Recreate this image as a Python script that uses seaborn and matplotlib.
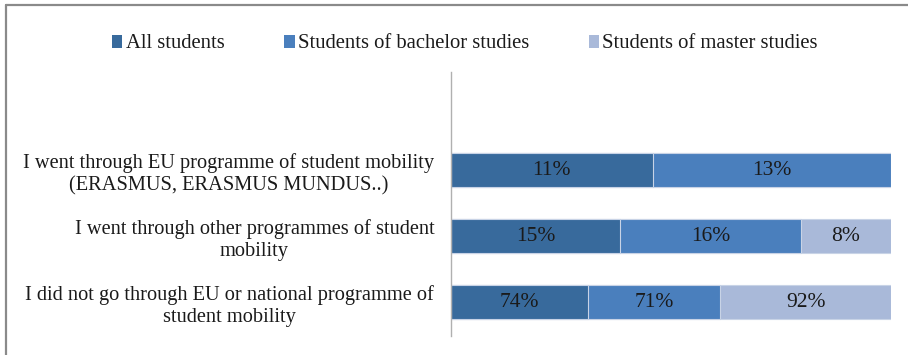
import matplotlib
matplotlib.use("Agg")
import matplotlib.pyplot as plt
from matplotlib.patches import Patch
from matplotlib.lines import Line2D
import numpy as np
import pandas as pd
import seaborn as sns

categories = [
    "I went through EU programme of student mobility\n(ERASMUS, ERASMUS MUNDUS..)",
    "I went through other programmes of student\nmobility",
    "I did not go through EU or national programme of\nstudent mobility",
]
series = ["All students", "Students of bachelor studies", "Students of master studies"]
all_students = [11, 15, 74]
bachelor = [13, 16, 71]
master = [0, 8, 92]
colors = ["#386a9c", "#4a7fbd", "#a9b9d9"]

sns.set_theme(style="white")
plt.rcParams["font.family"] = ["Liberation Serif", "DejaVu Serif"]

vals = np.array([all_students, bachelor, master], dtype=float)
shares = vals / vals.sum(axis=0) * 100
cum = np.cumsum(shares, axis=0)

df = pd.DataFrame({"category": categories})
for i, s in enumerate(series):
    df[s] = cum[i]

fig = plt.figure(figsize=(9.08, 3.55), dpi=100)
ax = fig.add_axes([451 / 908, 19 / 355, 440 / 908, 264 / 355])

# stacked bars drawn as overlapping cumulative totals, widest first
for i in reversed(range(3)):
    sns.barplot(data=df, x=series[i], y="category", orient="h", color=colors[i],
                width=0.515, edgecolor="#c8d3e6", linewidth=0.8, ax=ax, saturation=1)

# segment labels
for i in range(3):
    for j in range(len(categories)):
        if vals[i, j] <= 0:
            continue
        left = cum[i - 1, j] if i > 0 else 0
        ax.text(left + shares[i, j] / 2, j, f"{int(vals[i, j])}%", ha="center",
                va="center", fontsize=15.5, color="#1a1a1a")

ax.set_xlim(0, 100)
ax.set_ylim(2.515, -1.485)
ax.set_xlabel("")
ax.set_ylabel("")
ax.set_xticks([])
for side in ["top", "right", "bottom"]:
    ax.spines[side].set_visible(False)
ax.spines["left"].set_color("#b0b0b0")
ax.spines["left"].set_linewidth(1.0)
ax.tick_params(axis="y", length=0, pad=12, labelsize=14.7, labelcolor="#1a1a1a")
for t in ax.get_yticklabels():
    t.set_multialignment("center")
    t.set_linespacing(1.24)

handles = [Patch(facecolor=c, edgecolor="none") for c in colors]
fig.legend(handles, series, loc="center", bbox_to_anchor=(465 / 908, 1 - 44 / 355), ncol=3,
           frameon=False, fontsize=14.9, handlelength=0.5, handleheight=0.6,
           handletextpad=0.15, columnspacing=2.9, labelcolor="#1a1a1a")

# outer frame along the top and left
fig.add_artist(Line2D([6 / 908, 1], [1 - 5 / 355, 1 - 5 / 355], transform=fig.transFigure,
                      color="#8a8a8a", linewidth=1.6))
fig.add_artist(Line2D([6 / 908, 6 / 908], [0, 1 - 5 / 355], transform=fig.transFigure,
                      color="#8a8a8a", linewidth=1.6))

fig.savefig("out.png", dpi=100)
